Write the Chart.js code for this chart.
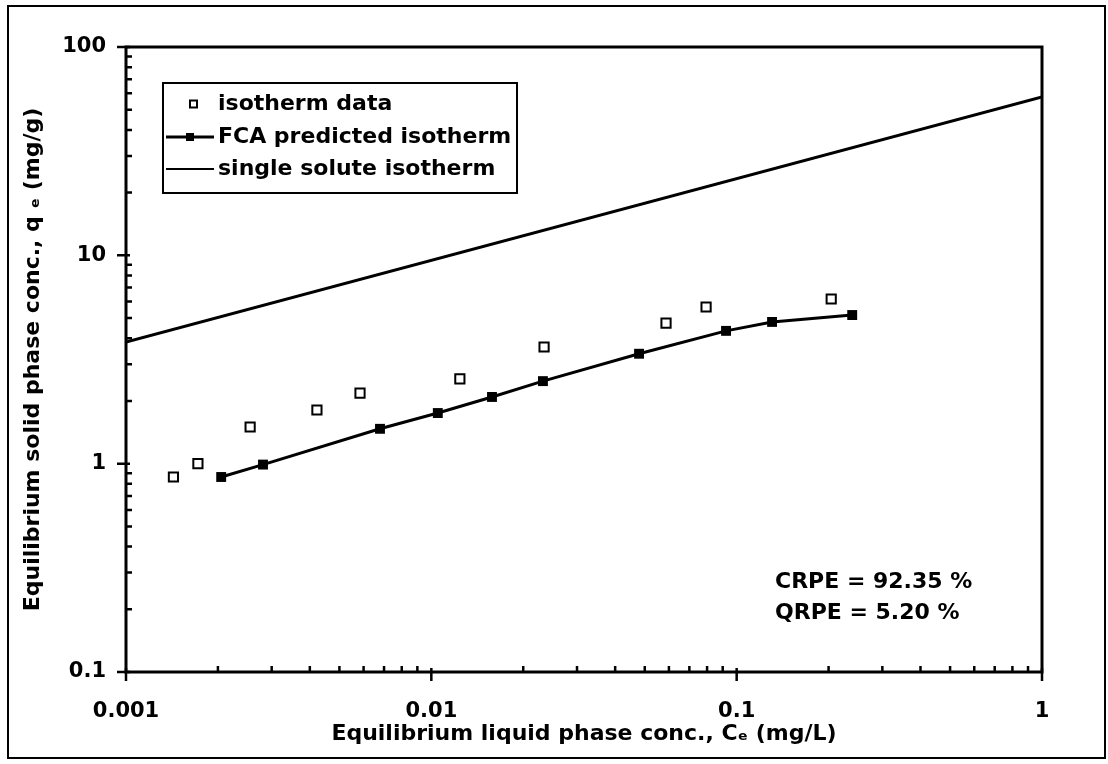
<!DOCTYPE html>
<html>
<head>
<meta charset="utf-8">
<script src="https://cdn.jsdelivr.net/npm/chart.js@4.4.1/dist/chart.umd.min.js"></script>
<style>
html, body { margin: 0; padding: 0; background: #fff; }
#wrap { width: 1108px; height: 764px; position: relative; }
</style>
</head>
<body>
<div id="wrap"><canvas id="chart"></canvas></div>
<script>
// isotherm data (open squares)
const isoC = [0.00143, 0.00172, 0.00255, 0.00422, 0.00584, 0.0124, 0.0234, 0.0587, 0.0794, 0.204];
const isoQ = [0.863, 1.0, 1.50, 1.81, 2.18, 2.55, 3.63, 4.73, 5.65, 6.17];

// FCA predicted isotherm
const fcaC = [0.00205, 0.00281, 0.00679, 0.0105, 0.0158, 0.0232, 0.0479, 0.0923, 0.1306, 0.239];
const fcaQ = [0.863, 0.99, 1.47, 1.75, 2.09, 2.49, 3.37, 4.34, 4.79, 5.17];

// single solute isotherm (straight line on log-log)
const singleC = [0.001, 1];
const singleQ = [3.84, 57.5];

const legendLabels = ['isotherm data', 'FCA predicted isotherm', 'single solute isotherm'];
const notes = ['CRPE = 92.35 %', 'QRPE = 5.20 %'];

const FONT = '"DejaVu Sans", "Liberation Sans", Arial, sans-serif';

function decadeTicks(lo, hi) {
    const out = [];
    for (let e = lo; e < hi; e++) {
        for (let k = 1; k <= 9; k++) {
            out.push({ value: parseFloat((k * Math.pow(10, e)).toPrecision(6)) });
        }
    }
    out.push({ value: Math.pow(10, hi) });
    return out;
}

function isDecade(v) {
    const l = Math.log10(v);
    return Math.abs(l - Math.round(l)) < 1e-9;
}

function toPoints(xs, ys) {
    return xs.map((x, i) => ({ x: x, y: ys[i] }));
}

const framePlugin = {
    id: 'frame',
    beforeDraw(chart) {
        const ctx = chart.ctx;
        ctx.save();
        ctx.fillStyle = '#fff';
        ctx.fillRect(0, 0, chart.width, chart.height);
        ctx.strokeStyle = '#000';
        ctx.lineWidth = 2;
        ctx.strokeRect(8, 6, 1097, 752);
        ctx.restore();
    },
    afterDraw(chart) {
        const ctx = chart.ctx;
        const a = chart.chartArea;
        const xs = chart.scales.x;
        const ys = chart.scales.y;
        ctx.save();
        ctx.strokeStyle = '#000';
        ctx.fillStyle = '#000';

        // plot box
        ctx.lineWidth = 3;
        ctx.strokeRect(a.left, a.top, a.right - a.left, a.bottom - a.top);

        // tick marks
        ctx.lineWidth = 2.5;
        ctx.beginPath();
        xs.ticks.forEach(t => {
            const px = xs.getPixelForValue(t.value);
            if (isDecade(t.value)) {
                ctx.moveTo(px, a.bottom - 4);
                ctx.lineTo(px, a.bottom + 9);
            } else {
                ctx.moveTo(px, a.bottom);
                ctx.lineTo(px, a.bottom - 6);
            }
        });
        ys.ticks.forEach(t => {
            const py = ys.getPixelForValue(t.value);
            if (isDecade(t.value)) {
                ctx.moveTo(a.left - 9, py);
                ctx.lineTo(a.left + 4, py);
            } else {
                ctx.moveTo(a.left, py);
                ctx.lineTo(a.left + 6, py);
            }
        });
        ctx.stroke();

        // legend
        const lx = 163, ly = 83, lw = 354, lh = 110;
        ctx.lineWidth = 2;
        ctx.strokeRect(lx, ly, lw, lh);
        const rows = [104, 137, 169];
        ctx.font = 'bold 22px ' + FONT;
        ctx.textBaseline = 'middle';
        ctx.textAlign = 'left';
        legendLabels.forEach((lab, i) => {
            ctx.fillText(lab, 218, rows[i]);
        });
        // row 1: open square
        ctx.lineWidth = 2;
        ctx.strokeRect(190, rows[0] - 3.5, 7, 7);
        // row 2: line + filled square
        ctx.lineWidth = 3;
        ctx.beginPath();
        ctx.moveTo(166, rows[1]);
        ctx.lineTo(214, rows[1]);
        ctx.stroke();
        ctx.fillRect(186, rows[1] - 4, 8, 8);
        // row 3: line
        ctx.lineWidth = 2;
        ctx.beginPath();
        ctx.moveTo(166, rows[2]);
        ctx.lineTo(214, rows[2]);
        ctx.stroke();

        // error notes
        ctx.font = 'bold 22px ' + FONT;
        ctx.fillText(notes[0], 775, 582);
        ctx.fillText(notes[1], 775, 613);
        ctx.restore();
    }
};

new Chart(document.getElementById('chart').getContext('2d'), {
    type: 'scatter',
    data: {
        datasets: [
            {
                label: legendLabels[0],
                data: toPoints(isoC, isoQ),
                pointStyle: 'rect',
                pointRadius: 6.5,
                pointBorderWidth: 2,
                pointBackgroundColor: '#fff',
                pointBorderColor: '#000',
                showLine: false,
                order: 0,
            },
            {
                label: legendLabels[1],
                data: toPoints(fcaC, fcaQ),
                pointStyle: 'rect',
                pointRadius: 7,
                pointBorderWidth: 0,
                pointBackgroundColor: '#000',
                borderColor: '#000',
                borderWidth: 3,
                showLine: true,
                order: 1,
            },
            {
                label: legendLabels[2],
                data: toPoints(singleC, singleQ),
                pointRadius: 0,
                borderColor: '#000',
                borderWidth: 3,
                showLine: true,
                order: 2,
            },
        ],
    },
    options: {
        responsive: true,
        maintainAspectRatio: false,
        animation: false,
        layout: {
            padding: { left: 0, top: 47, right: 66, bottom: 0 },
        },
        plugins: {
            legend: { display: false },
            tooltip: { enabled: false },
        },
        scales: {
            x: {
                type: 'logarithmic',
                min: 0.001,
                max: 1,
                afterBuildTicks: function(scale) {
                    scale.ticks = decadeTicks(-3, 0);
                },
                afterFit: function(scale) {
                    scale.height = 92;
                },
                grid: { display: false },
                border: { display: false },
                ticks: {
                    autoSkip: false,
                    maxRotation: 0,
                    padding: 19,
                    color: '#000',
                    font: { family: FONT, size: 21, weight: 'bold' },
                    callback: function(value) {
                        return isDecade(value) ? String(value) : '';
                    }
                },
                title: {
                    display: true,
                    text: 'Equilibrium liquid phase conc., Cₑ (mg/L)',
                    color: '#000',
                    font: { family: FONT, size: 22, weight: 'bold' },
                    padding: { top: 0, bottom: 17 },
                },
            },
            y: {
                type: 'logarithmic',
                min: 0.1,
                max: 100,
                afterBuildTicks: function(scale) {
                    scale.ticks = decadeTicks(-1, 2);
                },
                afterFit: function(scale) {
                    scale.width = 126;
                },
                grid: { display: false },
                border: { display: false },
                ticks: {
                    autoSkip: false,
                    padding: 12,
                    color: '#000',
                    font: { family: FONT, size: 21, weight: 'bold' },
                    callback: function(value) {
                        return isDecade(value) ? String(value) : '';
                    }
                },
                title: {
                    display: true,
                    text: 'Equilibrium solid phase conc., q ₑ (mg/g)',
                    color: '#000',
                    font: { family: FONT, size: 22, weight: 'bold' },
                    padding: { top: 20, bottom: 0 },
                },
            },
        },
    },
    plugins: [framePlugin],
});
</script>
</body>
</html>
